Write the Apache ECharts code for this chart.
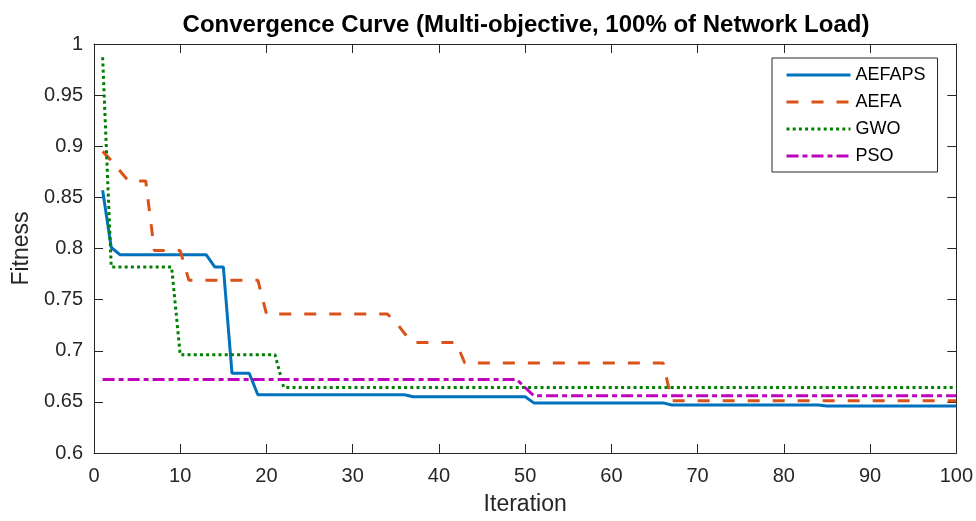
<!DOCTYPE html>
<html>
<head>
<meta charset="utf-8">
<title>Convergence Curve</title>
<script src="https://cdn.jsdelivr.net/npm/echarts@6/dist/echarts.min.js"></script>
<style>
  html, body { margin: 0; padding: 0; background: #fff; }
  #chart { width: 976px; height: 521px; }
</style>
</head>
<body>
<div id="chart"></div>
<script type="text/javascript">
// values; lines are straight between listed iterations
var xTicks = [0, 10, 20, 30, 40, 50, 60, 70, 80, 90, 100];
var yTicks = [0.6, 0.65, 0.7, 0.75, 0.8, 0.85, 0.9, 0.95, 1];

var aefapsIter = [1, 2, 3, 13, 14, 15, 16, 18, 19, 36, 37, 50, 51, 66, 67, 84, 85, 100];
var aefapsFit  = [0.857, 0.801, 0.794, 0.794, 0.782, 0.782, 0.678, 0.678, 0.657, 0.657, 0.655, 0.655, 0.649, 0.649, 0.647, 0.647, 0.646, 0.646];

var aefaIter = [1, 2, 3, 4, 6, 7, 10, 11, 19, 20, 34, 35, 36, 37, 42, 43, 66, 67, 100];
var aefaFit  = [0.895, 0.886, 0.876, 0.866, 0.866, 0.798, 0.798, 0.769, 0.769, 0.736, 0.736, 0.728, 0.717, 0.708, 0.708, 0.688, 0.688, 0.651, 0.651];

var gwoIter = [1, 2, 9, 10, 21, 22, 100];
var gwoFit  = [0.987, 0.782, 0.782, 0.696, 0.696, 0.664, 0.664];

var psoIter = [1, 49, 51, 100];
var psoFit  = [0.672, 0.672, 0.656, 0.656];

function pairs(xs, ys) {
  var out = [];
  for (var i = 0; i < xs.length; i++) out.push([xs[i], ys[i]]);
  return out;
}

var axisColor = '#262626';
var font = 'Liberation Sans, Arial, Helvetica, sans-serif';

function xAxisOf(pos, labels) {
  return {
    type: 'value', position: pos,
    min: xTicks[0], max: xTicks[xTicks.length - 1], interval: 10,
    axisLine: { show: true, onZero: false, lineStyle: { color: axisColor, width: 1 } },
    axisTick: { show: true, inside: true, length: 9, lineStyle: { color: axisColor } },
    axisLabel: { show: labels, color: axisColor, fontSize: 20, fontFamily: font, margin: 13 },
    splitLine: { show: false },
    name: labels ? 'Iteration' : '', nameLocation: 'middle', nameGap: 40,
    nameTextStyle: { color: axisColor, fontSize: 23, fontFamily: font }
  };
}

function yAxisOf(pos, labels) {
  return {
    type: 'value', position: pos,
    min: yTicks[0], max: yTicks[yTicks.length - 1], interval: 0.05,
    axisLine: { show: true, onZero: false, lineStyle: { color: axisColor, width: 1 } },
    axisTick: { show: true, inside: true, length: 9, lineStyle: { color: axisColor } },
    axisLabel: { show: labels, color: axisColor, fontSize: 20, fontFamily: font, margin: 11 },
    splitLine: { show: false },
    name: labels ? 'Fitness' : '', nameLocation: 'middle', nameGap: 59,
    nameTextStyle: { color: axisColor, fontSize: 23, fontFamily: font }
  };
}

function line(name, data, color, type) {
  return {
    name: name, type: 'line', data: data,
    xAxisIndex: 0, yAxisIndex: 0,
    symbol: 'none', showSymbol: false,
    lineStyle: { color: color, width: 3, type: type },
    itemStyle: { color: color }
  };
}

var chart = echarts.init(document.getElementById('chart'), null, { renderer: 'canvas' });
chart.setOption({
  animation: false,
  backgroundColor: '#ffffff',
  title: {
    text: 'Convergence Curve (Multi-objective, 100% of Network Load)',
    left: 521, top: 8, textAlign: 'center',
    textStyle: { color: '#000', fontSize: 24, fontWeight: 'bold', fontFamily: font }
  },
  grid: { left: 94, right: 18, top: 44, bottom: 63, containLabel: false },
  legend: {
    orient: 'vertical', left: 772, top: 58,
    padding: [7, 12, 6, 13], itemGap: 7,
    itemWidth: 64, itemHeight: 14,
    itemStyle: { opacity: 0, borderWidth: 0 },
    lineStyle: { width: 3 },
    backgroundColor: '#fff', borderColor: axisColor, borderWidth: 1,
    textStyle: { color: '#000', fontSize: 18, fontFamily: font, lineHeight: 20 },
    data: ['AEFAPS', 'AEFA', 'GWO', 'PSO']
  },
  xAxis: [xAxisOf('bottom', true), xAxisOf('top', false)],
  yAxis: [yAxisOf('left', true), yAxisOf('right', false)],
  series: [
    line('AEFAPS', pairs(aefapsIter, aefapsFit), '#0072BD', 'solid'),
    line('AEFA', pairs(aefaIter, aefaFit), '#D95319', [12, 13]),
    line('GWO', pairs(gwoIter, gwoFit), '#008000', [3, 3.2]),
    line('PSO', pairs(psoIter, psoFit), '#BF00BF', [12, 4, 5, 4])
  ]
});
</script>
</body>
</html>
